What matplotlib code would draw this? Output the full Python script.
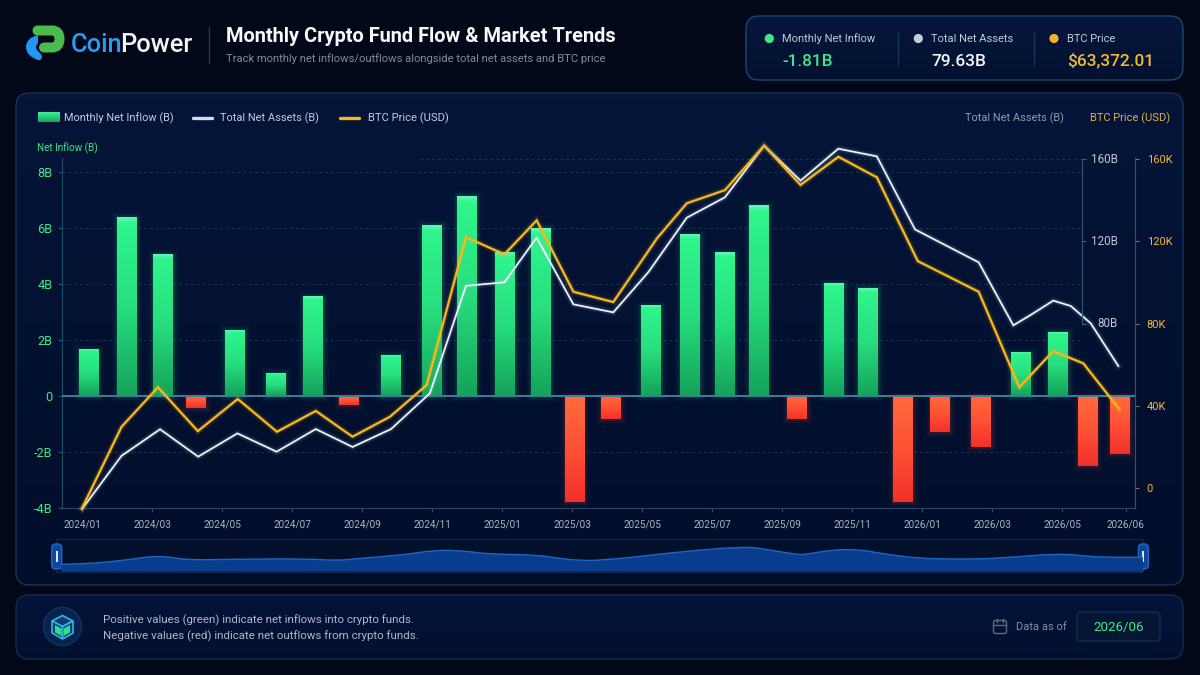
import numpy as np
import matplotlib
matplotlib.use('Agg')
import matplotlib.pyplot as plt
import matplotlib.patheffects as pe
from matplotlib.colors import LinearSegmentedColormap
from matplotlib.patches import Circle, FancyBboxPatch, PathPatch, Polygon, Rectangle
from matplotlib.path import Path

plt.rcParams['font.family'] = ['Roboto', 'DejaVu Sans']

# x values are in tick months, 2024/01 = 0
tick_x = [0, 2, 4, 6, 8, 10, 12, 14, 16, 18, 20, 22, 24, 26, 28, 29.82]
tick_labels = ['2024/01', '2024/03', '2024/05', '2024/07', '2024/09', '2024/11',
               '2025/01', '2025/03', '2025/05', '2025/07', '2025/09', '2025/11',
               '2026/01', '2026/03', '2026/05', '2026/06']

bar_x = [0.19, 1.27, 2.31, 3.25, 4.36, 5.53, 6.6, 7.61, 8.83, 10.0, 10.99, 12.09, 13.1, 14.07, 15.12,
         16.26, 17.37, 18.36, 19.33, 20.43, 21.49, 22.46, 23.46, 24.51, 25.68, 26.83, 27.89, 28.73, 29.66]
net_inflow = [1.65, 6.37, 5.03, -0.44, 2.35, 0.81, 3.54, -0.30, 1.45, 6.09, 7.13, 5.11, 5.98, -3.79, -0.83,
              3.22, 5.76, 5.11, 6.78, -0.83, 4.02, 3.85, -3.79, -1.28, -1.83, 1.54, 2.27, -2.48, -2.07]

assets_x = [0, 1.13, 2.23, 3.32, 4.44, 5.56, 6.68, 7.73, 8.83, 9.94, 10.97, 12.07, 12.99, 14.04, 15.18,
            16.18, 17.28, 18.37, 19.49, 20.53, 21.61, 22.71, 23.8, 25.62, 26.61, 27.13, 27.75, 28.25, 28.82, 29.61]
total_assets = [-10.1, 15.8, 28.7, 15.4, 26.7, 17.8, 28.8, 20.1, 28.8, 46.2, 98.4, 100.1, 121.8, 89.4, 85.5,
                105, 131.5, 141.4, 166.5, 149.5, 165, 161.3, 125.8, 109.8, 79.2, 84.5, 91.2, 88.6, 80.2, 59.4]

btc_x = [0, 1.13, 2.17, 3.31, 4.45, 5.57, 6.68, 7.73, 8.8, 9.85, 10.97, 12.07, 12.99, 14.04, 15.18,
         16.43, 17.28, 18.37, 19.49, 20.53, 21.61, 22.71, 23.88, 25.62, 26.78, 27.75, 28.61, 29.64]
btc_price = [-9.7, 29.9, 49.1, 27.8, 43.4, 27.5, 37.6, 25.1, 34.8, 50.2, 122, 113.7, 130.2, 95.5, 90.5,
             121.5, 138.5, 144.9, 166.5, 147.4, 161.1, 151.1, 110.4, 95.5, 49.1, 66.7, 60.7, 38.4]

overview_x = [-0.6, 0.06, 1.14, 2.03, 2.57, 3.03, 4.23, 6.4, 7.29, 7.94, 9.09, 10.11, 10.86, 11.66, 12.97, 13.77, 14.51,
              14.8, 15.66, 17.09, 18.86, 19.37, 20.37, 20.66, 21.37, 22.17, 22.8, 23.8, 25.09, 26.23, 27.94, 28.8, 29.51, 30.31]
overview_y = [7.4, 7.7, 11, 15.7, 14.4, 11.7, 12.4, 13, 11, 13.4, 16.4, 21.7, 21, 17.4, 17, 12.4, 11,
              11.7, 14, 20, 25, 23.4, 17.4, 17, 21.7, 22.4, 18.4, 13.4, 12.4, 13.4, 18.4, 15, 14.4, 14.4]

GREEN = '#3EE88A'
GOLD = '#F6B81A'
WHITE = '#F2F5FA'
MUTED = '#A9B4C8'
W, H = 1200, 675

fig = plt.figure(figsize=(12, 6.75), dpi=100, facecolor='#020818')

# page layer in pixel coordinates
bg = fig.add_axes([0, 0, 1, 1], zorder=0)
bg.set_xlim(0, W)
bg.set_ylim(H, 0)
bg.axis('off')


def panel(x0, y0, x1, y1, top, bottom, edge, r=13):
    box = FancyBboxPatch((x0 + r, y0 + r), x1 - x0 - 2 * r, y1 - y0 - 2 * r,
                         boxstyle=f'round,pad={r},rounding_size={r}',
                         fc='none', ec=edge, lw=1, zorder=3)
    bg.add_patch(box)
    cmap = LinearSegmentedColormap.from_list('p', [top, bottom])
    im = bg.imshow(np.linspace(0, 1, 64).reshape(-1, 1), cmap=cmap, aspect='auto',
                   extent=(x0, x1, y1, y0), zorder=2)
    im.set_clip_path(box)


def px_text(x, y, s, size, color, **kw):
    kw.setdefault('va', 'center')
    return bg.text(x, y, s, fontsize=size, color=color, zorder=6, **kw)


def smooth_path(xs, ys):
    # quadratic curve through the midpoints, the points themselves stay as read
    verts = [(xs[0], ys[0])]
    codes = [Path.MOVETO]
    for i in range(1, len(xs) - 1):
        verts += [(xs[i], ys[i]), ((xs[i] + xs[i + 1]) / 2, (ys[i] + ys[i + 1]) / 2)]
        codes += [Path.CURVE3, Path.CURVE3]
    verts.append((xs[-1], ys[-1]))
    codes.append(Path.LINETO)
    return verts, codes


panel(746, 16, 1183, 80, '#04173C', '#031130', '#1B4676')
panel(16, 93, 1183, 585, '#041539', '#020E2A', '#163458')
panel(16, 595, 1183, 659, '#03133A', '#021030', '#132C52')
bg.set_xlim(0, W)
bg.set_ylim(H, 0)

# logo
green_path = Path([(37.5, 30.5), (52, 30.5), (59.5, 30.5), (59.5, 39), (59.5, 47.5), (52, 47.5), (44, 47.5)],
                  [Path.MOVETO, Path.LINETO, Path.CURVE3, Path.CURVE3, Path.CURVE3, Path.CURVE3, Path.LINETO])
bg.add_patch(PathPatch(green_path, fc='none', ec='#4CBB4E', lw=7.2, capstyle='round', zorder=5))
blue_path = Path([(38, 35), (26, 38), (26, 47), (26, 56), (38, 60), (42, 61), (42, 56), (40, 53),
                  (33, 48), (38, 43), (38, 35)],
                 [Path.MOVETO, Path.CURVE3, Path.CURVE3, Path.CURVE3, Path.CURVE3, Path.CURVE3, Path.CURVE3,
                  Path.LINETO, Path.CURVE3, Path.CURVE3, Path.CLOSEPOLY])
bg.add_patch(PathPatch(blue_path, fc='#2196F3', ec='none', zorder=5))
coin = px_text(71, 45, 'Coin', 18.4, '#2A9DF0', fontweight='medium')
fig.canvas.draw()
px_text(coin.get_window_extent().x1 - 2, 45, 'Power', 18.4, '#F2F5FA', fontweight='medium')
bg.plot([209, 209], [27, 63], color='#24344F', lw=1, zorder=5)

px_text(225.5, 36, 'Monthly Crypto Fund Flow & Market Trends', 14.4, '#F7F9FC', fontweight='bold')
px_text(225.5, 59, 'Track monthly net inflows/outflows alongside total net assets and BTC price', 8.1, '#7D8AA0')

# summary box
for dx, name, val, col, dotc in [(769.3, 'Monthly Net Inflow', '-1.81B', GREEN, '#3EE88A'),
                                 (918.3, 'Total Net Assets', '79.63B', '#F5F7FA', '#C5CDD9'),
                                 (1054, 'BTC Price', '$63,372.01', '#F2B93B', '#F6AE2D')]:
    bg.add_patch(Circle((dx, 38.5), 4.6, fc=dotc, ec='none', zorder=5))
    px_text(dx + 13, 38.5, name, 8, '#C3CBD8')
    px_text(dx + 13, 61, val, 12.4, col, fontweight='medium')
for dx in [897.5, 1034]:
    bg.plot([dx, dx], [32, 65], color='#17335A', lw=1, zorder=5)

# legend row
swatch = bg.imshow(np.linspace(0, 1, 32).reshape(-1, 1), aspect='auto', extent=(37.5, 59, 122.5, 113), zorder=5,
                   cmap=LinearSegmentedColormap.from_list('s', ['#3BF09A', '#17A65C']))
bg.set_xlim(0, W)
bg.set_ylim(H, 0)
px_text(64.5, 118, 'Monthly Net Inflow (B)', 7.9, '#C3CBD8')
bg.plot([193, 212], [118, 118], color='#D5DBE5', lw=2.4, solid_capstyle='round', zorder=5)
px_text(220.5, 118, 'Total Net Assets (B)', 7.9, '#C3CBD8')
bg.plot([340, 359], [118, 118], color=GOLD, lw=2.4, solid_capstyle='round', zorder=5)
px_text(368, 118, 'BTC Price (USD)', 8.1, '#C3CBD8')
px_text(1063.5, 118.5, 'Total Net Assets (B)', 7.9, '#8E9AB0', ha='right')
px_text(1170, 118.5, 'BTC Price (USD)', 8, '#E0B044', ha='right')
px_text(37, 148, 'Net Inflow (B)', 7.1, GREEN)

# main chart
left, right, top, bottom = 62.3, 1135, 158, 508.3
rect = [left / W, 1 - bottom / H, (right - left) / W, (bottom - top) / H]
xlim = ((left - 82) / 35, (right - 82) / 35)
inflow_lim = (-4, 8.49)
line_lim = (-9.7, 160.5)
grid_end = (1082 - 82) / 35

ax = fig.add_axes(rect, zorder=2)
ax.patch.set_alpha(0)
ax.set_xlim(xlim)
ax.set_ylim(inflow_lim)
ax.hlines([8, 6, 4, 2, -2], xlim[0], grid_end, color='#1B3354', lw=0.7, ls=(0, (3, 3)), zorder=1)

green_cmap = LinearSegmentedColormap.from_list(
    'g', [(0, '#63F5B4'), (0.03, '#2FF58C'), (0.5, '#27DE7E'), (1, '#15A25A')], N=128)
red_cmap = LinearSegmentedColormap.from_list('r', ['#FF6A3C', '#FF5135', '#F2302B'], N=128)
bar_w = 0.56
bar_cols = ['#2DF28A' if v > 0 else '#FF4A30' for v in net_inflow]

for glow_lw, glow_a in [(8, 0.025), (5, 0.05), (2.5, 0.09)]:
    ax.bar(bar_x, net_inflow, bar_w, fc='none', lw=glow_lw, alpha=glow_a, zorder=2, ec=bar_cols)
ax.bar(bar_x, net_inflow, bar_w, color=bar_cols, zorder=3)
grad = np.linspace(0, 1, 128).reshape(-1, 1)
for xv, v in zip(bar_x, net_inflow):
    # top of the image is always the top of the bar
    ext = (xv - bar_w / 2, xv + bar_w / 2, min(v, 0), max(v, 0))
    ax.imshow(grad, extent=ext, aspect='auto', zorder=3, cmap=green_cmap if v > 0 else red_cmap)
ax.set_xlim(xlim)
ax.set_ylim(inflow_lim)
ax.axhline(0, color='#3D7F9C', lw=1.4, zorder=4)

ax.set_xticks(tick_x, tick_labels)
ax.set_yticks([-4, -2, 0, 2, 4, 6, 8], ['-4B', '-2B', '0', '2B', '4B', '6B', '8B'])
ax.tick_params(axis='x', colors='#33506E', labelcolor=MUTED, labelsize=7.2, length=3, width=0.8, pad=5)
ax.tick_params(axis='y', colors='#33506E', labelcolor=GREEN, labelsize=9.2, length=3, width=0.8, pad=4)
for s in ['top', 'right']:
    ax.spines[s].set_visible(False)
ax.spines['left'].set_color('#1E4D68')
ax.spines['bottom'].set_color('#24466A')


def glow(color):
    return [pe.Stroke(linewidth=5, foreground=color, alpha=0.07),
            pe.Stroke(linewidth=3, foreground=color, alpha=0.14), pe.Normal()]


ax2 = fig.add_axes(rect, zorder=3, sharex=ax)
ax2.patch.set_alpha(0)
ax2.set_ylim(line_lim)
ax2.hlines(160, (420 - 82) / 35, grid_end, color='#1B3354', lw=0.7, ls=(0, (3, 3)))
ax2.plot(assets_x, total_assets, color=WHITE, lw=1.25, clip_on=False, solid_joinstyle='miter',
         path_effects=glow('#9FC4F0'))
ax2.yaxis.tick_right()
ax2.set_yticks([80, 120, 160], [])
ax2.tick_params(axis='y', colors='#3A6A85', length=3, width=0.8)
# these labels line up on their right edge
for v, lab in zip([80, 120, 160], ['80B', '120B', '160B']):
    ax2.annotate(lab, (grid_end, v), xytext=(26, 0), textcoords='offset points', ha='right', va='center',
                 fontsize=8.4, color='#BFC8D8', annotation_clip=False)
ax2.tick_params(axis='x', bottom=False, labelbottom=False)
for s in ['top', 'left', 'bottom']:
    ax2.spines[s].set_visible(False)
ax2.spines['right'].set_position(('data', grid_end))
ax2.spines['right'].set_bounds(80, 160)
ax2.spines['right'].set_color('#2B5A75')

ax3 = fig.add_axes(rect, zorder=4, sharex=ax)
ax3.patch.set_alpha(0)
ax3.set_ylim(line_lim)
ax3.plot(btc_x, btc_price, color=GOLD, lw=1.6, clip_on=False, solid_joinstyle='miter', path_effects=glow(GOLD))
ax3.yaxis.tick_right()
ax3.set_yticks([0, 40, 80, 120, 160], ['0', '40K', '80K', '120K', '160K'])
ax3.tick_params(axis='y', colors='#7A7560', labelcolor='#F2B93B', labelsize=8, length=3, width=0.8, pad=5.5)
ax3.tick_params(axis='x', bottom=False, labelbottom=False)
for s in ['top', 'left', 'bottom']:
    ax3.spines[s].set_visible(False)
ax3.spines['right'].set_color('#4A4F55')

# range slider under the chart
bg.add_patch(Rectangle((56, 539), 1087, 32.7, fc='#03102C', ec='#102A50', lw=0.7, zorder=3))
ov = fig.add_axes([56 / W, 1 - 571.7 / H, 1087 / W, 32.7 / H], zorder=2)
ov.patch.set_alpha(0)
ov.axis('off')
ov.set_xlim((56 - 82) / 35, (1143 - 82) / 35)
ov.set_ylim(0, 32.7)
verts, codes = smooth_path(overview_x, overview_y)
area = Path(verts + [(overview_x[-1], 0), (overview_x[0], 0), (overview_x[0], overview_y[0])],
            codes + [Path.LINETO, Path.LINETO, Path.CLOSEPOLY])
ov.add_patch(PathPatch(area, fc='#0A3C8E', ec='none'))
ov.add_patch(PathPatch(Path(verts, codes), fc='none', ec='#1E66C2', lw=1))

for hx in [56.7, 1143.4]:
    bg.add_patch(FancyBboxPatch((hx - 2.5, 546.5), 5, 20, boxstyle='round,pad=2.5,rounding_size=4',
                                fc='#0E47A0', ec='#1F66C4', lw=1, zorder=7))
    bg.plot([hx, hx], [552, 561], color='#E8EEF8', lw=1.4, zorder=8)

# footer
bg.add_patch(Circle((62.4, 626.5), 19, fc='#07244F', ec='#0E3560', lw=1, zorder=4))
bg.add_patch(Polygon([(62.5, 615.5), (73, 621), (62.5, 626.5), (52, 621)], fc='#0B3C70', ec='#35B4E8', lw=1.2, zorder=5))
bg.add_patch(Polygon([(52, 621), (62.5, 626.5), (62.5, 639), (52, 633)], fc='#0B3C70', ec='#35B4E8', lw=1.2, zorder=5))
bg.add_patch(Polygon([(73, 621), (62.5, 626.5), (62.5, 639), (73, 633)], fc='#0B3C70', ec='#35B4E8', lw=1.2, zorder=5))
bg.add_patch(Polygon([(55, 625), (61.5, 628.5), (61.5, 636), (55, 632.5)], fc='#2FE08A', ec='none', zorder=6))
bg.add_patch(Polygon([(70, 625), (63.5, 628.5), (63.5, 636), (70, 632.5)], fc='#2FE08A', ec='none', zorder=6))
px_text(103, 620, 'Positive values (green) indicate net inflows into crypto funds.', 8.27, '#AEB8CA')
px_text(103, 636, 'Negative values (red) indicate net outflows from crypto funds.', 8.27, '#AEB8CA')

bg.add_patch(FancyBboxPatch((994, 621), 12, 12, boxstyle='round,pad=0.5,rounding_size=2', fc='none',
                            ec='#5A6A84', lw=1, zorder=5))
bg.plot([994, 1006], [624.5, 624.5], color='#5A6A84', lw=1, zorder=5)
for cx in [997, 1003]:
    bg.plot([cx, cx], [619, 622], color='#5A6A84', lw=1, zorder=5)
px_text(1015.5, 627, 'Data as of', 8, '#8390A6')
bg.add_patch(FancyBboxPatch((1081, 616), 75, 21, boxstyle='round,pad=4,rounding_size=4', fc='#041633',
                            ec='#12305A', lw=0.9, zorder=4))
px_text(1118.5, 627, '2026/06', 9.6, GREEN, ha='center')

fig.savefig('out.png', dpi=100, facecolor=fig.get_facecolor())
